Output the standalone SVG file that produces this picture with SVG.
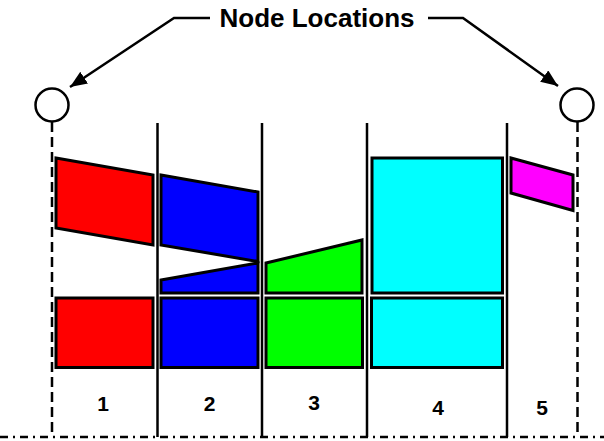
<svg xmlns="http://www.w3.org/2000/svg" width="604" height="441" viewBox="0 0 604 441">
<style>
.sh{stroke:#000;stroke-width:3;stroke-linejoin:miter}
.div{stroke:#000;stroke-width:2.5;fill:none}
.dash{stroke:#000;stroke-width:2.5;fill:none;stroke-dasharray:10 5}
.dashdot{stroke:#000;stroke-width:2.5;fill:none;stroke-dasharray:8 5 2 5}
.node{fill:#fff;stroke:#000;stroke-width:2.5}
.lead{stroke:#000;stroke-width:2.5;fill:none}
.lbl{font-family:"Liberation Sans",Arial,sans-serif;font-weight:bold;fill:#000;text-anchor:middle}
</style>
<defs>
<marker id="ah" markerUnits="userSpaceOnUse" markerWidth="20" markerHeight="16" refX="17" refY="7" orient="auto">
<path d="M0,0 L17,7 L0,14 Z" fill="#000"/>
</marker>
</defs>
<rect width="604" height="441" fill="#fff"/>
<g id="frame">
<line class="dashdot" x1="0" y1="437" x2="604" y2="437"/>
<line class="div" x1="157.5" y1="123" x2="157.5" y2="437"/>
<line class="div" x1="262" y1="123" x2="262" y2="437"/>
<line class="div" x1="367" y1="123" x2="367" y2="437"/>
<line class="div" x1="507" y1="123" x2="507" y2="437"/>
</g>
<g id="node-left">
<line class="dash" x1="52" y1="122" x2="52" y2="437"/>
<circle class="node" cx="52" cy="105" r="16.5"/>
</g>
<g id="node-right">
<line class="dash" x1="577.5" y1="122" x2="577.5" y2="437"/>
<circle class="node" cx="577" cy="105" r="16.5"/>
</g>
<g id="col1">
<polygon class="sh" fill="#ff0000" points="56,158 153,175 153,245 56,228"/>
<rect class="sh" fill="#ff0000" x="56" y="298" width="97" height="69.5"/>
<text class="lbl" x="103" y="411" font-size="21">1</text>
</g>
<g id="col2">
<polygon class="sh" fill="#0000ff" points="161,175 258,192 258,261.5 161,245"/>
<polygon class="sh" fill="#0000ff" points="161,280 258,263 258,293 161,293"/>
<rect class="sh" fill="#0000ff" x="161" y="298" width="97" height="69.5"/>
<text class="lbl" x="209.5" y="411" font-size="21">2</text>
</g>
<g id="col3">
<polygon class="sh" fill="#00ff00" points="266,263 362,240 362,293 266,293"/>
<rect class="sh" fill="#00ff00" x="266" y="298" width="96.5" height="69.5"/>
<text class="lbl" x="314" y="410" font-size="21">3</text>
</g>
<g id="col4">
<rect class="sh" fill="#00ffff" x="372" y="158" width="130.5" height="135"/>
<rect class="sh" fill="#00ffff" x="371.5" y="298" width="131" height="69.5"/>
<text class="lbl" x="438" y="415" font-size="21">4</text>
</g>
<g id="col5">
<polygon class="sh" fill="#ff00ff" points="511,158 573,175 573,210.5 511,193"/>
<text class="lbl" x="542" y="415" font-size="21">5</text>
</g>
<g id="connectors">
<polyline class="lead" points="210,18 174,18 70,87" marker-end="url(#ah)"/>
<polyline class="lead" points="428,18 463,18 558,86" marker-end="url(#ah)"/>
</g>
<g id="title">
<text class="lbl" x="317" y="27" font-size="26">Node Locations</text>
</g>
</svg>
